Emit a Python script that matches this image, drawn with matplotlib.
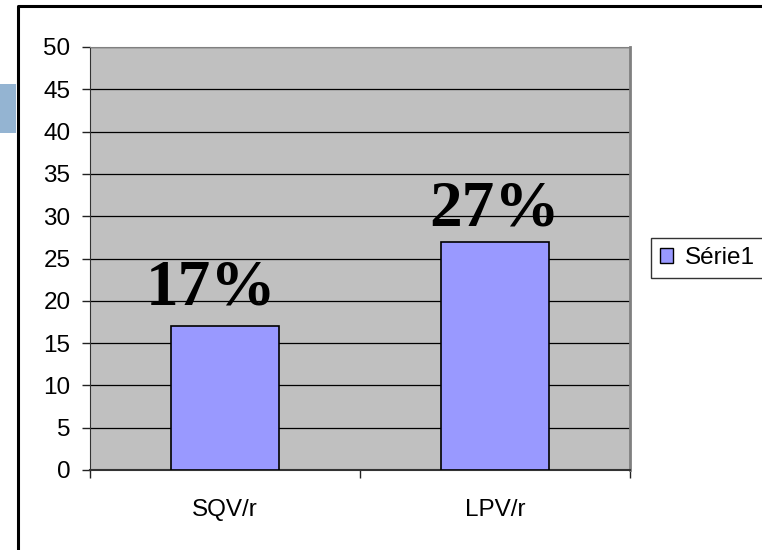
import matplotlib
matplotlib.use("Agg")
import matplotlib.pyplot as plt
from matplotlib.patches import Patch, Rectangle
from matplotlib.lines import Line2D

categories = ["SQV/r", "LPV/r"]
values = [17, 27]
value_labels = ["17%", "27%"]
series_name = "Série1"
yticks = [0, 5, 10, 15, 20, 25, 30, 35, 40, 45, 50]

# small placement nudges for the value annotations (x in category units, y in data units)
label_dx = [-0.05, 0.0]
label_dy = [2.6, 1.9]

W, H = 762, 550
fig = plt.figure(figsize=(W / 100, H / 100), dpi=100)
fig.patch.set_facecolor("white")

# decorative slide artifact and outer chart border
fig.patches.append(Rectangle((0, 1 - 133 / H), 16 / W, 49 / H, transform=fig.transFigure,
                             facecolor="#94B4D2", edgecolor="none", zorder=0))
fig.lines.append(Line2D([17.5 / W, 17.5 / W, 1.0], [0, 1 - 5.5 / H, 1 - 5.5 / H],
                        transform=fig.transFigure, color="black", linewidth=2.2, zorder=1))

ax = fig.add_axes([90 / W, 1 - 470 / H, 540 / W, 423 / H])
ax.set_facecolor("#C0C0C0")

x = list(range(len(categories)))
bars = ax.bar(x, values, width=0.4, color="#9999FF", edgecolor="black", linewidth=1.2,
              zorder=3, label=series_name)

for xi, v, lab, dx, dy in zip(x, values, value_labels, label_dx, label_dy):
    ax.text(xi + dx, v + dy, lab, ha="center", va="baseline", family="Liberation Serif",
            fontweight="bold", fontsize=47, color="black", zorder=4)

ax.set_xlim(-0.5, len(categories) - 0.5)
ax.set_ylim(0, 50)
ax.set_yticks(yticks)
ax.yaxis.grid(True, color="black", linewidth=0.9, zorder=1)
ax.set_axisbelow(True)

ax.set_xticks(x)
ax.set_xticklabels(categories)
ax.set_xticks([-0.5 + i for i in range(len(categories) + 1)], minor=True)
ax.tick_params(axis="x", which="major", length=0, pad=21, labelsize=17.5)
ax.tick_params(axis="x", which="minor", length=6, width=1, color="#222222", direction="out")
ax.tick_params(axis="y", length=6, width=1, color="#222222", direction="out", pad=8,
               labelsize=17.5)
for t in ax.get_xticklabels() + ax.get_yticklabels():
    t.set_family("Liberation Sans")

ax.spines["left"].set_color("#333333")
ax.spines["bottom"].set_color("#333333")
ax.spines["bottom"].set_linewidth(1.5)
ax.spines["top"].set_color("#808080")
ax.spines["right"].set_color("#808080")
ax.spines["right"].set_linewidth(2)

leg = fig.legend(handles=[Patch(facecolor="#9999FF", edgecolor="black", linewidth=1,
                                label=series_name)],
                 loc="center left", bbox_to_anchor=(651 / W, 1 - 279 / H, 0.2, 42 / H),
                 mode="expand", borderaxespad=0, frameon=True, fancybox=False, borderpad=0.35,
                 handlelength=0.55, handleheight=0.55, handletextpad=0.5,
                 prop={"family": "Liberation Sans", "size": 17.5})
leg.get_frame().set_edgecolor("black")
leg.get_frame().set_linewidth(1)

fig.savefig("out.png", dpi=100, facecolor="white")
